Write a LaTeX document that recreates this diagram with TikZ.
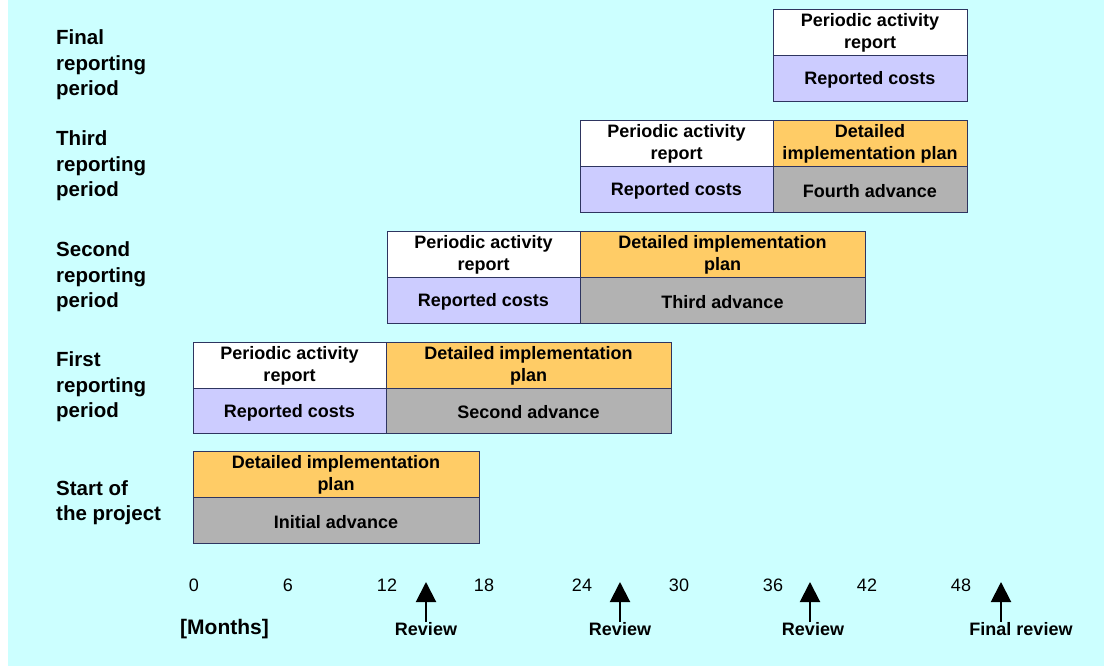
\documentclass[tikz,border=0pt]{standalone}
\usepackage{fontspec}
\setmainfont{Liberation Sans}
\usetikzlibrary{arrows.meta}
\definecolor{bgcyan}{HTML}{CCFFFF}
\definecolor{lav}{HTML}{CCCCFF}
\definecolor{orng}{HTML}{FFCC66}
\definecolor{gry}{HTML}{B2B2B2}
\definecolor{edge}{HTML}{2E3560}
\tikzset{
  cell/.style={draw=edge, line width=0.8pt, inner sep=0pt, outer sep=0pt, anchor=north west,
    align=center, font=\fontsize{18}{22}\selectfont\bfseries, text=black},
  rowlabel/.style={anchor=west, align=left, inner sep=0pt, font=\fontsize{20.5}{25.5}\selectfont\bfseries},
  axnum/.style={inner sep=0pt, font=\fontsize{18}{21}\selectfont},
  revlabel/.style={inner sep=0pt, font=\fontsize{18}{21}\selectfont\bfseries},
  revarrow/.style={line width=2pt, -{Triangle[width=20pt,length=20pt]}}
}
\newcommand{\onecell}[1]{\raisebox{-2pt}[\height][\depth]{#1}}
\newcommand{\twocell}[2]{\raisebox{-1pt}[\height][\depth]{\begin{tabular}{@{}c@{}}#1\\[0pt]#2\end{tabular}}}
\begin{document}
\begin{tikzpicture}[x=1pt,y=-1pt]
\useasboundingbox (0,0) rectangle (1104,666);
\fill[bgcyan] (8,0) rectangle (1104,666);
% Final
\node[cell, fill=white, minimum width=194pt, minimum height=46pt] (fpar) at (773,9) {\twocell{Periodic activity}{report}};
\node[cell, fill=lav, minimum width=194pt, minimum height=46pt] (frc) at (773,55) {\onecell{Reported costs}};
% Third
\node[cell, fill=white, minimum width=193pt, minimum height=46pt] (tpar) at (580,120) {\twocell{Periodic activity}{report}};
\node[cell, fill=orng, minimum width=194pt, minimum height=46pt] (tdip) at (773,120) {\twocell{Detailed}{implementation plan}};
\node[cell, fill=lav, minimum width=193pt, minimum height=46pt] (trc) at (580,166) {\onecell{Reported costs}};
\node[cell, fill=gry, minimum width=194pt, minimum height=46pt] (tadv) at (773,166) {\onecell{Fourth advance}};
% Second
\node[cell, fill=white, minimum width=193pt, minimum height=46pt] (spar) at (387,231) {\twocell{Periodic activity}{report}};
\node[cell, fill=orng, minimum width=285pt, minimum height=46pt] (sdip) at (580,231) {\twocell{Detailed implementation}{plan}};
\node[cell, fill=lav, minimum width=193pt, minimum height=46pt] (src) at (387,277) {\onecell{Reported costs}};
\node[cell, fill=gry, minimum width=285pt, minimum height=46pt] (sadv) at (580,277) {\onecell{Third advance}};
% First
\node[cell, fill=white, minimum width=193pt, minimum height=46pt] (ipar) at (193,342) {\twocell{Periodic activity}{report}};
\node[cell, fill=orng, minimum width=285pt, minimum height=46pt] (idip) at (386,342) {\twocell{Detailed implementation}{plan}};
\node[cell, fill=lav, minimum width=193pt, minimum height=45pt] (irc) at (193,388) {\onecell{Reported costs}};
\node[cell, fill=gry, minimum width=285pt, minimum height=45pt] (iadv) at (386,388) {\onecell{Second advance}};
% Start
\node[cell, fill=orng, minimum width=286pt, minimum height=46pt] (stdip) at (193,451) {\twocell{Detailed implementation}{plan}};
\node[cell, fill=gry, minimum width=286pt, minimum height=46pt] (stadv) at (193,497) {\onecell{Initial advance}};
% Row labels
\node[rowlabel] (lfinal) at (56,65) {Final\\reporting\\period};
\node[rowlabel] (lthird) at (56,166) {Third\\reporting\\period};
\node[rowlabel] (lsecond) at (56,277) {Second\\reporting\\period};
\node[rowlabel] (lfirst) at (56,387) {First\\reporting\\period};
\node[rowlabel] (lstart) at (56,502.5) {Start of\\the project};
% Axis numbers
\node[axnum] (n0) at (194,585) {0};
\node[axnum] (n6) at (288,585) {6};
\node[axnum] (n12) at (387,585) {12};
\node[axnum] (n18) at (484,585) {18};
\node[axnum] (n24) at (582,585) {24};
\node[axnum] (n30) at (679,585) {30};
\node[axnum] (n36) at (773,585) {36};
\node[axnum] (n42) at (867,585) {42};
\node[axnum] (n48) at (961,585) {48};
% Labels bottom
\node[inner sep=0pt, font=\fontsize{21}{24}\selectfont\bfseries] (months) at (224.5,629) {[Months]};
\node[revlabel] (r1) at (426,629) {Review};
\node[revlabel] (r2) at (620,629) {Review};
\node[revlabel] (r3) at (813,629) {Review};
\node[revlabel] (r4) at (1021,629) {Final review};
% Arrows
\coordinate (a1b) at (426,622); \coordinate (a1t) at (426,582);
\coordinate (a2b) at (620,622); \coordinate (a2t) at (620,582);
\coordinate (a3b) at (810,622); \coordinate (a3t) at (810,582);
\coordinate (a4b) at (1001,622); \coordinate (a4t) at (1001,582);
\draw[revarrow] (a1b) -- (a1t);
\draw[revarrow] (a2b) -- (a2t);
\draw[revarrow] (a3b) -- (a3t);
\draw[revarrow] (a4b) -- (a4t);
\end{tikzpicture}
\end{document}
